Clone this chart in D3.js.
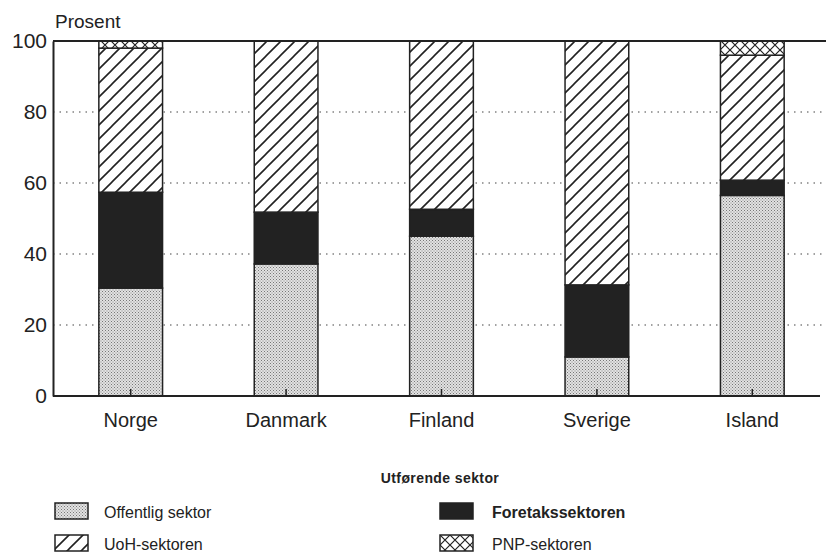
<!DOCTYPE html>
<html>
<head>
<meta charset="utf-8">
<script src="https://cdn.jsdelivr.net/npm/d3@7"></script>
<style>
  body { margin: 0; background: #fff; }
  text { font-family: "Liberation Sans", Arial, sans-serif; fill: #222; }
</style>
</head>
<body>
<script>
var countries = ["Norge", "Danmark", "Finland", "Sverige", "Island"];
var offentlig = [30.4, 37.2, 45.0, 11.0, 56.5];
var foretak   = [27.0, 14.6, 7.6, 20.3, 4.3];
var uoh       = [40.6, 48.2, 47.4, 68.7, 35.2];
var pnp       = [2.0, 0, 0, 0, 4.0];
var yTicks    = [0, 20, 40, 60, 80, 100];

var sectors = [
	{ key: "off", name: "Offentlig sektor", values: offentlig, fill: "url(#dots)" },
	{ key: "for", name: "Foretakssektoren", values: foretak,  fill: "#222" },
	{ key: "uoh", name: "UoH-sektoren",     values: uoh,      fill: "url(#hatch)" },
	{ key: "pnp", name: "PNP-sektoren",     values: pnp,      fill: "url(#cross)" }
];

var width = 826, height = 557;
var plotLeft = 53, plotRight = 830, plotTop = 41, plotBottom = 396;

var svg = d3.select("body").append("svg")
	.attr("width", width)
	.attr("height", height);

var defs = svg.append("defs");

// fine stipple
var dots = defs.append("pattern")
	.attr("id", "dots")
	.attr("patternUnits", "userSpaceOnUse")
	.attr("width", 3).attr("height", 3);
dots.append("rect").attr("width", 3).attr("height", 3).attr("fill", "#e2e2e2");
dots.append("rect").attr("width", 1).attr("height", 1).attr("fill", "#777");
dots.append("rect").attr("x", 1.5).attr("y", 1.5).attr("width", 1).attr("height", 1).attr("fill", "#888");

// diagonal hatch
var hatch = defs.append("pattern")
	.attr("id", "hatch")
	.attr("patternUnits", "userSpaceOnUse")
	.attr("width", 14).attr("height", 14);
hatch.append("rect").attr("width", 14).attr("height", 14).attr("fill", "#fff");
hatch.append("path")
	.attr("d", "M0,14 L14,0 M-3.5,3.5 L3.5,-3.5 M10.5,17.5 L17.5,10.5")
	.attr("stroke", "#222").attr("stroke-width", 1.6);

// cross hatch
var cross = defs.append("pattern")
	.attr("id", "cross")
	.attr("patternUnits", "userSpaceOnUse")
	.attr("width", 10).attr("height", 10);
cross.append("rect").attr("width", 10).attr("height", 10).attr("fill", "#fff");
cross.append("path")
	.attr("d", "M0,0 L10,10 M10,0 L0,10")
	.attr("stroke", "#222").attr("stroke-width", 1.2);

var x = d3.scaleBand()
	.domain(countries)
	.range([plotLeft, plotRight])
	.paddingInner(0.59)
	.paddingOuter(0.295);

var y = d3.scaleLinear()
	.domain([0, 100])
	.range([plotBottom, plotTop]);

// dotted grid
svg.append("g")
	.selectAll("line")
	.data(yTicks.filter(function(d) { return d > 0 && d < 100; }))
	.join("line")
	.attr("x1", plotLeft).attr("x2", 826)
	.attr("y1", function(d) { return y(d); })
	.attr("y2", function(d) { return y(d); })
	.attr("stroke", "#444")
	.attr("stroke-width", 1.2)
	.attr("stroke-dasharray", "1.5,5");

// stacked bars
var stack = d3.stack()
	.keys(sectors.map(function(s) { return s.key; }))
	(countries.map(function(c, i) {
		var row = { country: c };
		sectors.forEach(function(s) { row[s.key] = s.values[i]; });
		return row;
	}));

stack.forEach(function(layer, li) {
	svg.append("g")
		.selectAll("rect")
		.data(layer)
		.join("rect")
		.attr("x", function(d) { return x(d.data.country); })
		.attr("width", x.bandwidth())
		.attr("y", function(d) { return y(d[1]); })
		.attr("height", function(d) { return y(d[0]) - y(d[1]); })
		.attr("fill", sectors[li].fill)
		.attr("stroke", function(d) { return d[1] - d[0] > 0 ? "#222" : "none"; })
		.attr("stroke-width", 1.5);
});

// top frame line
svg.append("line")
	.attr("x1", plotLeft).attr("x2", 826)
	.attr("y1", y(100)).attr("y2", y(100))
	.attr("stroke", "#222").attr("stroke-width", 2);

// y axis
var yAxis = svg.append("g")
	.attr("transform", "translate(" + plotLeft + ",0)")
	.call(d3.axisLeft(y).tickValues(yTicks).tickSize(0).tickPadding(6));
yAxis.select(".domain").attr("stroke", "#222").attr("stroke-width", 2);
yAxis.selectAll("text")
	.style("font-size", "21px")
	.style("font-family", "Liberation Sans, Arial, sans-serif")
	.attr("fill", "#222");

// x axis
var xAxis = svg.append("g")
	.attr("transform", "translate(0," + plotBottom + ")")
	.call(d3.axisBottom(x).tickSizeInner(-7).tickSizeOuter(0).tickPadding(17));
xAxis.select(".domain").attr("d", "M" + plotLeft + ",0H820").attr("stroke", "#222").attr("stroke-width", 2);
xAxis.selectAll(".tick line").attr("stroke", "#222").attr("stroke-width", 1.5);
xAxis.selectAll("text")
	.style("font-size", "20px")
	.style("font-family", "Liberation Sans, Arial, sans-serif")
	.attr("fill", "#222");

svg.append("text")
	.attr("x", 55).attr("y", 28)
	.style("font-size", "19px")
	.text("Prosent");

// legend
svg.append("text")
	.attr("x", 440).attr("y", 483)
	.attr("text-anchor", "middle")
	.style("font-size", "14px")
	.style("font-weight", "bold")
	.style("letter-spacing", "0.4px")
	.text("Utførende sektor");

var legendPos = [
	{ s: sectors[0], x: 55,  y: 503 },
	{ s: sectors[1], x: 440, y: 503 },
	{ s: sectors[2], x: 55,  y: 535 },
	{ s: sectors[3], x: 440, y: 535 }
];

var leg = svg.append("g").selectAll("g")
	.data(legendPos)
	.join("g")
	.attr("transform", function(d) { return "translate(" + d.x + "," + d.y + ")"; });

leg.append("rect")
	.attr("width", 33).attr("height", 16)
	.attr("fill", function(d) { return d.s.fill; })
	.attr("stroke", "#222").attr("stroke-width", 1.5);

leg.append("text")
	.attr("x", function(d) { return d.x < 100 ? 49 : 52; })
	.attr("y", 15)
	.style("font-size", "16px")
	.style("font-weight", function(d) { return d.s.key === "for" ? "bold" : "normal"; })
	.text(function(d) { return d.s.name; });
</script>
</body>
</html>
